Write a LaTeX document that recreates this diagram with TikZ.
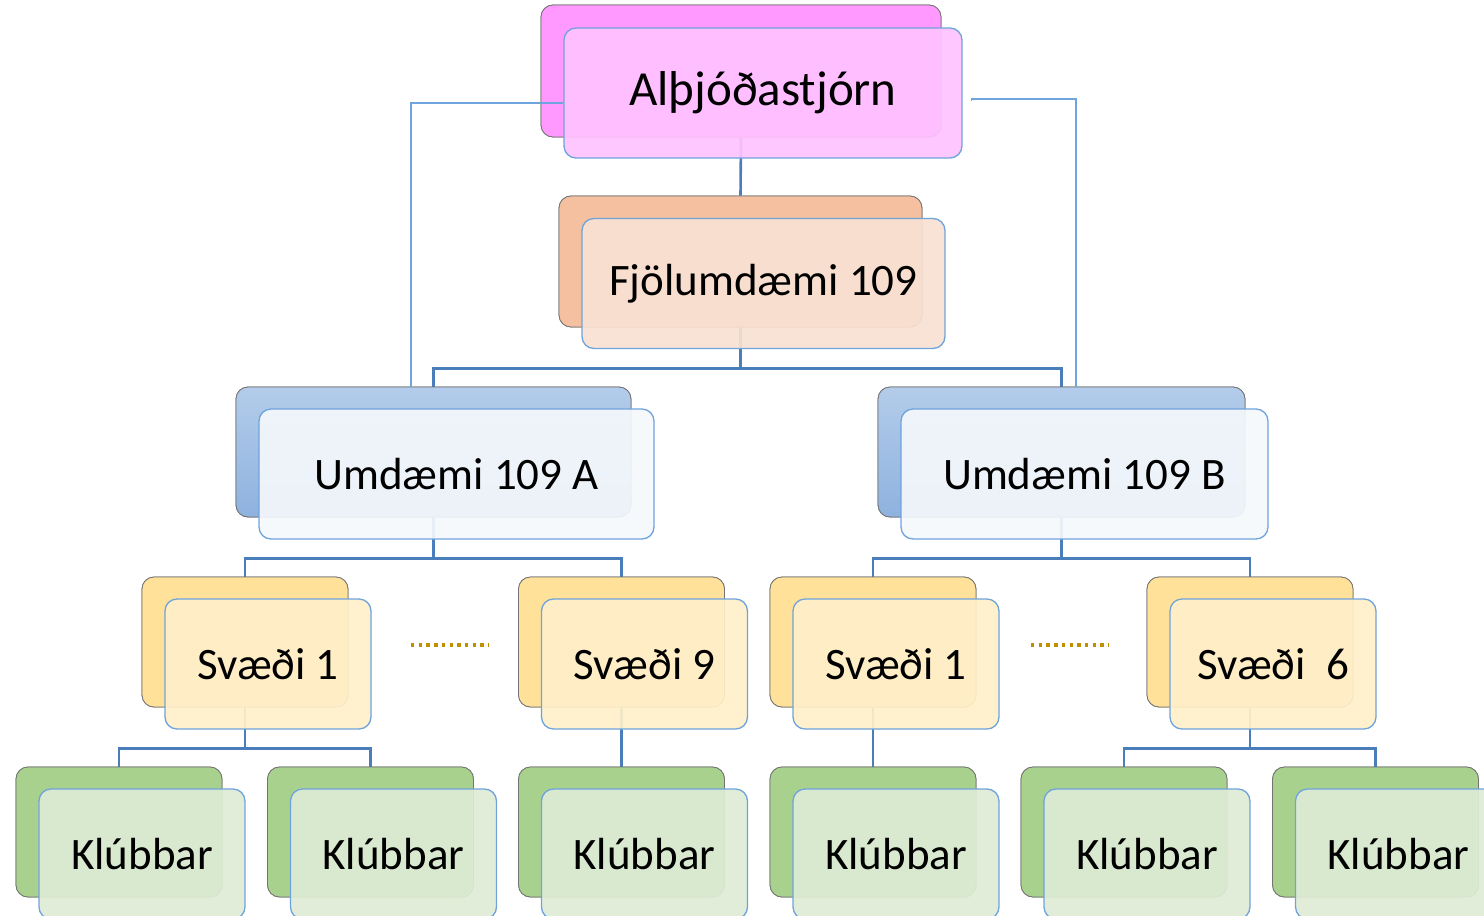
\documentclass[tikz,border=0pt]{standalone}
\usepackage{fontspec}
\setmainfont{Carlito}
\usetikzlibrary{calc}
\definecolor{connc}{HTML}{4A7EBB}
\definecolor{thinc}{HTML}{6FA5DC}
\definecolor{frontline}{HTML}{6FA3DC}
\definecolor{dotc}{HTML}{BF9000}
\definecolor{magB}{HTML}{FF99FF}
\definecolor{magF}{HTML}{FFC2FF}
\definecolor{peaB}{HTML}{F4C09F}
\definecolor{peaF}{HTML}{F9E1D2}
\definecolor{bluT}{HTML}{B3CCEA}
\definecolor{bluD}{HTML}{8EB2DF}
\definecolor{bluF}{HTML}{F5F8FC}
\definecolor{yelB}{HTML}{FFE199}
\definecolor{yelF}{HTML}{FFF0C9}
\definecolor{grnB}{HTML}{A9D18E}
\definecolor{grnF}{HTML}{DEECD5}
\tikzset{
  backbox/.style={draw=black!55, line width=0.8pt, rounded corners=12pt, minimum height=130pt, inner sep=0pt},
  frontbox/.style={draw=frontline, line width=1.3pt, rounded corners=12pt, minimum height=130pt, inner sep=0pt, fill opacity=0.92, text opacity=1, font=\fontsize{45}{49}\selectfont},
  conn/.style={draw=connc, line width=2.6pt},
  thinln/.style={draw=thinc, line width=1.3pt},
  dotln/.style={draw=dotc, line width=3.4pt, dash pattern=on 3.4pt off 4.3pt},
}
\begin{document}
\begin{tikzpicture}[x=1pt,y=-1pt]
\useasboundingbox (0,0) rectangle (1484,916);
% back boxes (positions)
\path
  node[backbox, fill=magB, minimum width=400pt, minimum height=132pt] (topb) at (741,71) {}
  node[backbox, fill=peaB, minimum width=363pt, minimum height=131pt] (fjb) at (740.5,261.5) {}
  node[backbox, top color=bluT, bottom color=bluD, minimum width=395pt] (uab) at (433.5,452) {}
  node[backbox, top color=bluT, bottom color=bluD, minimum width=367pt] (ubb) at (1061.5,452) {}
  node[backbox, fill=yelB, minimum width=206pt] (s1b) at (245,642) {}
  node[backbox, fill=yelB, minimum width=206pt] (s9b) at (621.5,642) {}
  node[backbox, fill=yelB, minimum width=206pt] (s1rb) at (873,642) {}
  node[backbox, fill=yelB, minimum width=206pt] (s6b) at (1250,642) {}
  node[backbox, fill=grnB, minimum width=206pt] (k1b) at (119,832) {}
  node[backbox, fill=grnB, minimum width=206pt] (k2b) at (370.5,832) {}
  node[backbox, fill=grnB, minimum width=206pt] (k3b) at (621.5,832) {}
  node[backbox, fill=grnB, minimum width=206pt] (k4b) at (873,832) {}
  node[backbox, fill=grnB, minimum width=206pt] (k5b) at (1124,832) {}
  node[backbox, fill=grnB, minimum width=206pt] (k6b) at (1375.5,832) {};
% connectors
\draw[conn] (topb.south) -- (fjb.north);
\draw[conn] (fjb.south) -- ++(0,41) -| (uab.north);
\draw[conn] (fjb.south) -- ++(0,41) -| (ubb.north);
\draw[conn] (uab.south) -- ++(0,41) -| (s1b.north);
\draw[conn] (uab.south) -- ++(0,41) -| (s9b.north);
\draw[conn] (ubb.south) -- ++(0,41) -| (s1rb.north);
\draw[conn] (ubb.south) -- ++(0,41) -| (s6b.north);
\draw[conn] (s1b.south) -- ++(0,41) -| (k1b.north);
\draw[conn] (s1b.south) -- ++(0,41) -| (k2b.north);
\draw[conn] (s9b.south) -- (k3b.north);
\draw[conn] (s1rb.south) -- (k4b.north);
\draw[conn] (s6b.south) -- ++(0,41) -| (k5b.north);
\draw[conn] (s6b.south) -- ++(0,41) -| (k6b.north);
% redraw back boxes over connector ends
\path
  node[backbox, fill=magB, minimum width=400pt, minimum height=132pt] at (topb) {}
  node[backbox, fill=peaB, minimum width=363pt, minimum height=131pt] at (fjb) {}
  node[backbox, top color=bluT, bottom color=bluD, minimum width=395pt] at (uab) {}
  node[backbox, top color=bluT, bottom color=bluD, minimum width=367pt] at (ubb) {}
  node[backbox, fill=yelB, minimum width=206pt] at (s1b) {}
  node[backbox, fill=yelB, minimum width=206pt] at (s9b) {}
  node[backbox, fill=yelB, minimum width=206pt] at (s1rb) {}
  node[backbox, fill=yelB, minimum width=206pt] at (s6b) {}
  node[backbox, fill=grnB, minimum width=206pt] at (k1b) {}
  node[backbox, fill=grnB, minimum width=206pt] at (k2b) {}
  node[backbox, fill=grnB, minimum width=206pt] at (k3b) {}
  node[backbox, fill=grnB, minimum width=206pt] at (k4b) {}
  node[backbox, fill=grnB, minimum width=206pt] at (k5b) {}
  node[backbox, fill=grnB, minimum width=206pt] at (k6b) {};
% front boxes
\node[frontbox, fill=magF, minimum width=398pt, font=\fontsize{49}{53}\selectfont] (top) at (763,93) {Alþjóðastjórn};
% thin lines
\draw[thinln] ($(top.west)+(0,10)$) -| ($(uab.north)+(-22.5,0)$);
\draw[thinln] ($(top.east)+(9,8)$) -- ++(0,-2) -| ($(ubb.north)+(14.5,0)$);
\node[frontbox, fill=peaF, minimum width=363pt] (fj) at (763.5,283.5) {Fjölumdæmi 109};
\node[frontbox, fill=bluF, minimum width=395pt] (ua) at (456.5,474) {Umdæmi 109 A};
\node[frontbox, fill=bluF, minimum width=367pt] (ub) at (1084.5,474) {Umdæmi 109 B};
\node[frontbox, fill=yelF, minimum width=206pt] (s1) at (268,664) {Svæði 1};
\node[frontbox, fill=yelF, minimum width=206pt] (s9) at (644.5,664) {Svæði 9};
\node[frontbox, fill=yelF, minimum width=206pt] (s1r) at (896,664) {Svæði 1};
\node[frontbox, fill=yelF, minimum width=206pt] (s6) at (1273,664) {Svæði\ \ 6};
\node[frontbox, fill=grnF, minimum width=206pt] (k1) at (142,854) {Klúbbar};
\node[frontbox, fill=grnF, minimum width=206pt] (k2) at (393.5,854) {Klúbbar};
\node[frontbox, fill=grnF, minimum width=206pt] (k3) at (644.5,854) {Klúbbar};
\node[frontbox, fill=grnF, minimum width=206pt] (k4) at (896,854) {Klúbbar};
\node[frontbox, fill=grnF, minimum width=206pt] (k5) at (1147,854) {Klúbbar};
\node[frontbox, fill=grnF, minimum width=206pt] (k6) at (1398.5,854) {Klúbbar};
% dotted ellipses
\coordinate (d1a) at (411,645); \coordinate (d1b) at (489,645);
\coordinate (d2a) at (1031,645); \coordinate (d2b) at (1109,645);
\draw[dotln] (d1a) -- (d1b);
\draw[dotln] (d2a) -- (d2b);
\end{tikzpicture}
\end{document}
